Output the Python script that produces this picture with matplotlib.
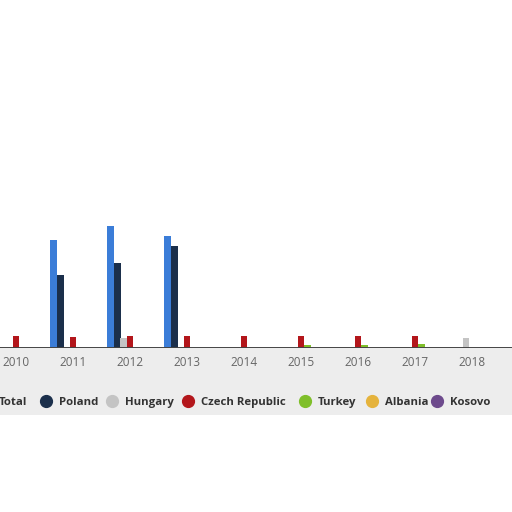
import matplotlib.pyplot as plt
import matplotlib.patches as mpatches
from matplotlib.lines import Line2D
import numpy as np

years = ["2010", "2011", "2012", "2013", "2014", "2015", "2016", "2017", "2018"]
series = ["Total", "Poland", "Hungary", "Czech Republic", "Turkey", "Albania", "Kosovo"]
colors = ["#3b7dd8", "#1b2f4b", "#c4c4c4", "#b3161b", "#7fbf2a", "#e5b33c", "#6d4a8c"]

total = [0, 108, 122, 112, 0, 0, 0, 0, 0]
poland = [0, 73, 85, 102, 0, 0, 0, 0, 0]
hungary = [0, 0, 10, 0, 0, 0, 0, 0, 10]
czech = [12, 11, 12, 12, 12, 12, 12, 12, 0]
turkey = [0, 0, 0, 0, 0, 3, 3, 4, 0]
albania = [0, 0, 0, 0, 0, 0, 0, 0, 0]
kosovo = [0, 0, 0, 0, 0, 0, 0, 0, 0]
values = [total, poland, hungary, czech, turkey, albania, kosovo]

fig = plt.figure(figsize=(5.12, 5.12), dpi=100)
plt.rcParams['font.family'] = ['Open Sans', 'DejaVu Sans']
W = 512.0

# grey band under the axis (screenshot background), kept behind everything
fig.patches.append(mpatches.Rectangle((0, 97 / W), 1, 67 / W, transform=fig.transFigure,
                                      facecolor="#ededed", edgecolor="none", zorder=-5))

ax = fig.add_axes([0, 164 / W, 1, 200 / W])
ax.set_facecolor("none")
ax.set_zorder(2)
x = np.arange(len(years))
bw = 0.115
offsets = [-0.34, -0.22, -0.11, 0.0, 0.11, 0.22, 0.33]
for vals, c, off in zip(values, colors, offsets):
    ax.bar(x + off, vals, width=bw, color=c, edgecolor="none", zorder=3)

ax.set_xlim(-0.28, 8.70)
ax.set_ylim(0, 200)
ax.axhline(0, color="#444444", lw=1.4, zorder=4)
for s in ax.spines.values():
    s.set_visible(False)
ax.set_yticks([])
ax.set_xticks(x)
ax.set_xticklabels(years, color="#666666", fontsize=8.5)
ax.tick_params(axis="x", length=0, pad=6)

# legend drawn by hand so the row lines up like the screenshot
leg_y = (512 - 401) / W
marker_x = [-14, 46, 112, 188, 305, 372, 437]
for name, c, mx in zip(series, colors, marker_x):
    fig.add_artist(Line2D([mx / W], [leg_y], marker="o", color=c, markersize=8.5,
                          transform=fig.transFigure, zorder=3))
    fig.text((mx + 13) / W, leg_y, name, color="#333333", fontsize=8.2,
             fontweight="bold", va="center_baseline", ha="left", zorder=3)

fig.savefig("out.png", dpi=100)
